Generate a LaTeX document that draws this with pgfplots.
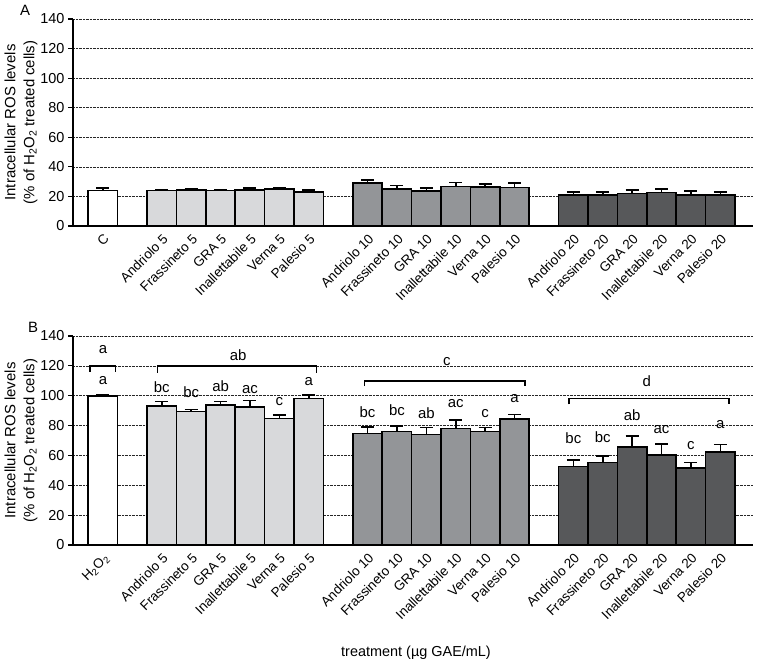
\documentclass[border=0pt]{standalone}
\usepackage{fontspec}
\setmainfont{Liberation Sans}
\usepackage{pgfplots}
\pgfplotsset{compat=1.18}
\definecolor{g5}{RGB}{216,217,219}
\definecolor{g10}{RGB}{147,149,152}
\definecolor{g20}{RGB}{87,88,90}
\pgfplotsset{
 myaxis/.style={
  width=680bp, scale only axis,
  xmin=-1.02, xmax=22.11, ymin=0, ymax=140,
  axis x line=bottom, axis y line=left,
  axis line style={-, line width=1.6bp, black},
  ytick={0,20,...,140}, ymajorgrids,
  grid style={densely dotted, line width=0.7bp, black!85},
  tick align=outside, major tick length=5bp,
  ytick style={line width=1.2bp, black},
  xtick style={draw=none},
  xtick={0,2,3,4,5,6,7,9,10,11,12,13,14,16,17,18,19,20,21},
  xticklabel style={rotate=45, anchor=north east, font=\fontsize{13.5}{15}\selectfont, inner sep=1.5bp},
  yticklabel style={font=\fontsize{14.5}{16}\selectfont},
  /pgf/number format/assume math mode=true,
  every axis y label/.style={at={(axis description cs:-0.0765,0.5)}, anchor=center, rotate=90, align=center},
  ylabel style={font=\fontsize{15}{18}\selectfont},
  ylabel={Intracellular ROS levels\\[1bp](\% of H\textsubscript{2}O\textsubscript{2} treated cells)},
  ybar, bar width=29.4bp,
  error bars/y dir=plus, error bars/y explicit,
  error bars/error bar style={line width=1.6bp, black},
  error bars/error mark options={rotate=90, mark size=6.5bp, line width=1.6bp, black},
  clip=false,
 },
 barstyle/.style={draw=black, line width=1.6bp, bar shift=0pt},
}
\tikzset{lett/.style={font=\fontsize{15}{17}\selectfont, anchor=center},
 brk/.style={line width=1.5bp, black}}
\begin{document}
\begin{tikzpicture}
\useasboundingbox (0,0) rectangle (765bp,-664bp);
% Panel A
\begin{axis}[myaxis, height=207bp, at={(73bp,-226bp)}, anchor=south west,
 xticklabels={C,Andriolo 5,Frassineto 5,GRA 5,Inallettabile 5,Verna 5,Palesio 5,Andriolo 10,Frassineto 10,GRA 10,Inallettabile 10,Verna 10,Palesio 10,Andriolo 20,Frassineto 20,GRA 20,Inallettabile 20,Verna 20,Palesio 20}]
\addplot[barstyle, fill=white] coordinates {(0,24.0) +- (0,1.8)};
\addplot[barstyle, fill=g5] coordinates {
 (2,24.0) +- (0,0.6) (3,24.3) +- (0,0.9) (4,23.9) +- (0,0.6)
 (5,24.3) +- (0,1.4) (6,25.2) +- (0,0.5) (7,23.0) +- (0,1.3)};
\addplot[barstyle, fill=g10] coordinates {
 (9,28.9) +- (0,2.2) (10,25.0) +- (0,2.5) (11,23.6) +- (0,2.1)
 (12,26.6) +- (0,2.7) (13,26.4) +- (0,2.2) (14,26.1) +- (0,3.0)};
\addplot[barstyle, fill=g20] coordinates {
 (16,21.1) +- (0,1.9) (17,21.1) +- (0,2.1) (18,22.0) +- (0,2.5)
 (19,22.7) +- (0,2.3) (20,20.9) +- (0,2.7) (21,21.1) +- (0,2.1)};
\end{axis}
% Panel B
\begin{axis}[myaxis, height=209bp, at={(73bp,-545bp)}, anchor=south west,
 xticklabels={H\textsubscript{2}O\textsubscript{2},Andriolo 5,Frassineto 5,GRA 5,Inallettabile 5,Verna 5,Palesio 5,Andriolo 10,Frassineto 10,GRA 10,Inallettabile 10,Verna 10,Palesio 10,Andriolo 20,Frassineto 20,GRA 20,Inallettabile 20,Verna 20,Palesio 20}]
\addplot[barstyle, fill=white] coordinates {(0,100.0) +- (0,0.5)};
\addplot[barstyle, fill=g5] coordinates {
 (2,93.3) +- (0,2.9) (3,89.3) +- (0,1.5) (4,93.8) +- (0,2.2)
 (5,92.6) +- (0,4.1) (6,84.8) +- (0,2.2) (7,98.2) +- (0,2.2)};
\addplot[barstyle, fill=g10] coordinates {
 (9,74.8) +- (0,4.4) (10,75.9) +- (0,3.8) (11,74.1) +- (0,4.5)
 (12,78.1) +- (0,5.6) (13,75.9) +- (0,2.7) (14,84.6) +- (0,2.9)};
\addplot[barstyle, fill=g20] coordinates {
 (16,52.5) +- (0,4.4) (17,55.4) +- (0,4.2) (18,65.8) +- (0,7.2)
 (19,60.3) +- (0,7.3) (20,51.6) +- (0,3.8) (21,62.5) +- (0,4.9)};
% brackets
\draw[brk] (axis cs:-0.45,116) -- (axis cs:-0.45,120) -- (axis cs:0.42,120) -- (axis cs:0.42,116);
\draw[brk] (axis cs:1.85,115.5) -- (axis cs:1.85,120) -- (axis cs:7.27,120) -- (axis cs:7.27,115.5);
\draw[brk] (axis cs:8.9,106.4) -- (axis cs:8.9,110) -- (axis cs:14.35,110) -- (axis cs:14.35,106.4);
\draw[brk] (axis cs:15.85,94.2) -- (axis cs:15.85,98) -- (axis cs:21.3,98) -- (axis cs:21.3,94.2);
% group letters
\node[lett] at (axis cs:0,131) {a};
\node[lett] at (axis cs:4.6,127) {ab};
\node[lett] at (axis cs:11.7,122.8) {c};
\node[lett] at (axis cs:18.5,110) {d};
% bar letters
\node[lett] at (axis cs:0,110) {a};
\node[lett] at (axis cs:2,106) {bc};
\node[lett] at (axis cs:3,102.7) {bc};
\node[lett] at (axis cs:4,106.5) {ab};
\node[lett] at (axis cs:5,103.8) {ac};
\node[lett] at (axis cs:6,96.4) {c};
\node[lett] at (axis cs:7,109.8) {a};
\node[lett] at (axis cs:9,89.3) {bc};
\node[lett] at (axis cs:10,90.4) {bc};
\node[lett] at (axis cs:11,88.6) {ab};
\node[lett] at (axis cs:12,94.9) {ac};
\node[lett] at (axis cs:13,88.2) {c};
\node[lett] at (axis cs:14,97.8) {a};
\node[lett] at (axis cs:16,71.4) {bc};
\node[lett] at (axis cs:17,72.5) {bc};
\node[lett] at (axis cs:18,87) {ab};
\node[lett] at (axis cs:19,77.5) {ac};
\node[lett] at (axis cs:20,66.5) {c};
\node[lett] at (axis cs:21,81) {a};
\end{axis}
\node[font=\fontsize{15}{17}\selectfont] at (25bp,-10bp) {A};
\node[font=\fontsize{15}{17}\selectfont] at (33bp,-327bp) {B};
\node[font=\fontsize{14.5}{16}\selectfont] at (416bp,-653bp) {treatment (µg GAE/mL)};
\end{tikzpicture}
\end{document}
